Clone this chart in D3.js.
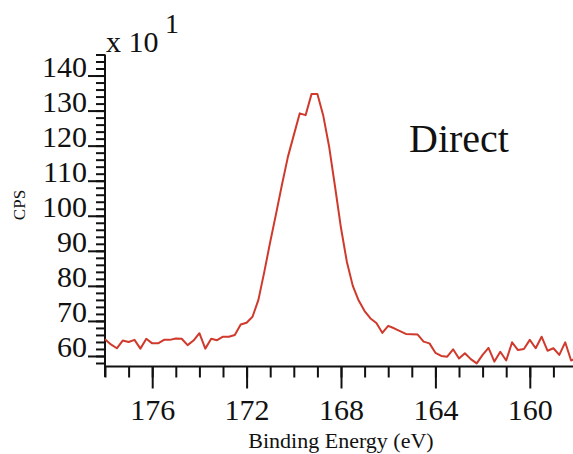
<!DOCTYPE html>
<html>
<head>
<meta charset="utf-8">
<script src="https://cdn.jsdelivr.net/npm/d3@7/dist/d3.min.js"></script>
<style>
  html, body { margin: 0; padding: 0; background: #fff; }
  svg { display: block; }
  text { font-family: "Liberation Serif", "Times New Roman", serif; fill: #111; }
</style>
</head>
<body>
<svg id="chart" width="573" height="454"></svg>
<script>
// S 2p spectrum, "Direct" sample: binding energy (eV) vs counts (CPS, x 10^1)
const energyStart = 178;
const energyStep = 0.25;
const cps = [
  64.8, 63.3, 62.2, 64.4, 64.0, 64.6, 62.1, 64.9, 63.6, 63.6,
  64.6, 64.6, 65.0, 64.9, 63.1, 64.4, 66.5, 62.1, 64.9, 64.5,
  65.5, 65.5, 66.0, 69.0, 69.5, 71.2, 76.0, 84.0, 92.5, 100.6,
  108.9, 116.8, 123.0, 129.2, 128.7, 134.7, 134.7, 128.5, 119.6, 108.2,
  96.5, 86.8, 80.0, 75.8, 72.8, 70.7, 69.4, 66.6, 68.6, 67.9,
  67.1, 66.3, 66.2, 66.1, 64.1, 63.6, 60.9, 60.0, 59.8, 61.9,
  59.3, 60.8, 59.1, 57.9, 60.3, 62.3, 58.4, 61.2, 58.7, 63.9,
  61.7, 62.0, 64.6, 62.2, 65.5, 61.5, 62.2, 60.3, 63.9, 58.7,
  59.5
];
const energies = cps.map((_, i) => energyStart - i * energyStep);

const xMajorTicks = [176, 172, 168, 164, 160];
const xMinorTicks = d3.range(178, 157.5, -1);
const yMajorTicks = [60, 70, 80, 90, 100, 110, 120, 130, 140];
const yMinorTicks = d3.range(58, 146.1, 2);

const svg = d3.select("#chart");

const x = d3.scaleLinear().domain([178, 158]).range([105, 577]);
const y = d3.scaleLinear().domain([57, 146]).range([366.5, 54.5]);

// Axes
const axisColor = "#111";

const gx = svg.append("g").attr("transform", "translate(0,366.5)");
gx.append("g")
  .call(d3.axisBottom(x).tickValues(xMinorTicks).tickSize(11).tickFormat(""))
  .call(g => g.select(".domain").remove());
gx.append("g")
  .call(d3.axisBottom(x).tickValues(xMajorTicks).tickSize(22).tickFormat(d3.format("d")))
  .call(g => g.select(".domain").remove())
  .call(g => g.selectAll("text")
    .attr("y", 53).attr("dy", 0)
    .style("font-size", "30px")
    .style("font-family", "'Liberation Serif', serif")
    .attr("fill", "#111"));
gx.selectAll(".tick line").attr("stroke", axisColor).attr("stroke-width", 2);
gx.append("line")
  .attr("x1", 104).attr("x2", 573)
  .attr("y1", 0).attr("y2", 0)
  .attr("stroke", axisColor).attr("stroke-width", 2);

const gy = svg.append("g").attr("transform", "translate(105,0)");
gy.append("g")
  .call(d3.axisLeft(y).tickValues(yMinorTicks).tickSize(9).tickFormat(""))
  .call(g => g.select(".domain").remove());
gy.append("g")
  .call(d3.axisLeft(y).tickValues(yMajorTicks).tickSize(17).tickPadding(1).tickFormat(d3.format("d")))
  .call(g => g.select(".domain").remove())
  .call(g => g.selectAll("text")
    .attr("dy", 1)
    .style("font-size", "30px")
    .style("font-family", "'Liberation Serif', serif")
    .attr("fill", "#111"));
gy.selectAll(".tick line").attr("stroke", axisColor).attr("stroke-width", 2);
gy.append("line")
  .attr("x1", 0).attr("x2", 0)
  .attr("y1", y(146)).attr("y2", 377)
  .attr("stroke", axisColor).attr("stroke-width", 2);

// Spectrum trace
const line = d3.line()
  .x((d, i) => x(energies[i]))
  .y(d => y(d));

svg.append("path")
  .datum(cps)
  .attr("fill", "none")
  .attr("stroke", "#cf3a2c")
  .attr("stroke-width", 2)
  .attr("stroke-linejoin", "round")
  .attr("d", line);

// Scale factor label
const sf = svg.append("text").attr("x", 106).attr("y", 52).style("font-size", "30px");
sf.append("tspan").text("x 10");
svg.append("text").attr("x", 165).attr("y", 33).style("font-size", "28px").text("1");

// Axis titles
svg.append("text")
  .attr("transform", "translate(25,205) rotate(-90)")
  .attr("text-anchor", "middle")
  .style("font-size", "17px")
  .text("CPS");

svg.append("text")
  .attr("x", 341).attr("y", 448)
  .attr("text-anchor", "middle")
  .style("font-size", "22px")
  .text("Binding Energy (eV)");

// Sample label
svg.append("text")
  .attr("x", 409).attr("y", 152)
  .style("font-size", "40px")
  .text("Direct");
</script>
</body>
</html>
